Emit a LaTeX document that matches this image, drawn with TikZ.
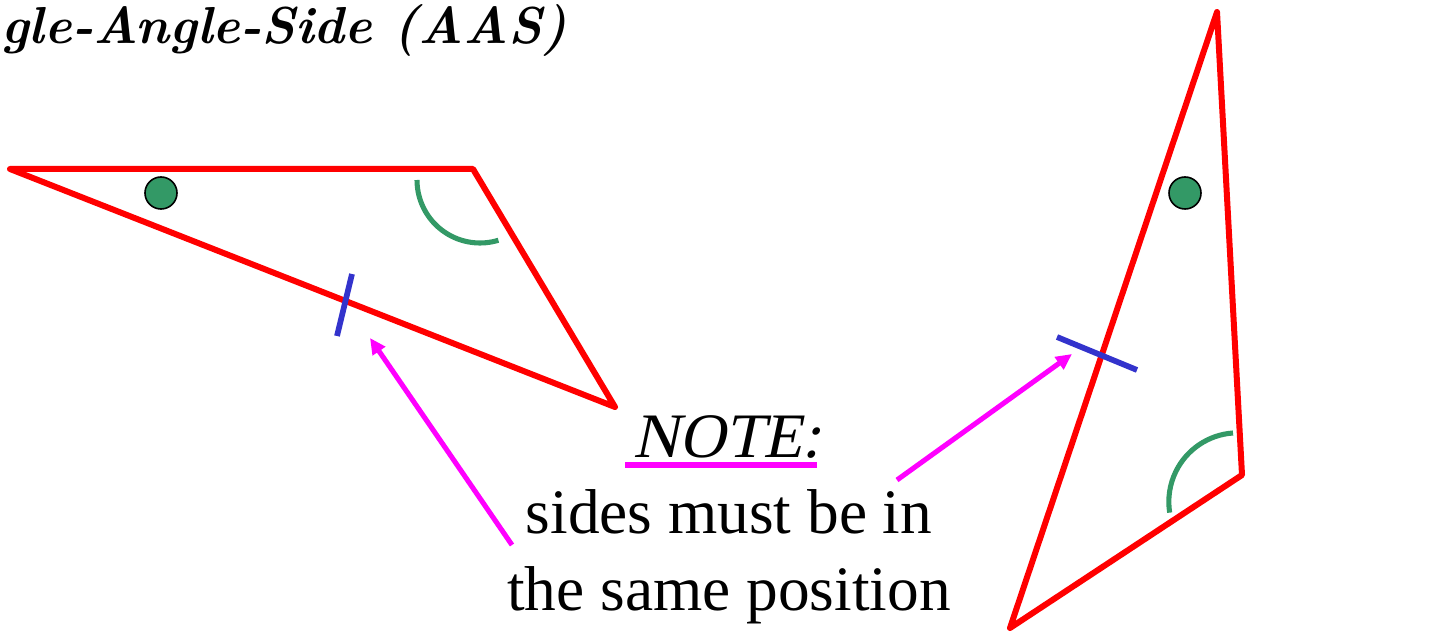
\documentclass[tikz,border=0pt]{standalone}
\usepackage{fontspec}
\newfontfamily\tnr{Liberation Serif}
\newfontfamily\tnrit{Liberation Serif}[FakeSlant=0.21]
\usetikzlibrary{arrows.meta}
\definecolor{tri}{HTML}{FF0000}
\definecolor{ang}{HTML}{339966}
\definecolor{tick}{HTML}{3333CC}
\definecolor{mag}{HTML}{FF00FF}
\tikzset{
  triside/.style={draw=tri, line width=4.5pt, line join=round, line cap=round},
  angarc/.style={draw=ang, line width=3.8pt},
  dotmark/.style={circle, fill=ang, draw=black, line width=1.2pt, minimum size=24pt, inner sep=0pt},
  tickmark/.style={draw=tick, line width=4.3pt},
  pointer/.style={draw=mag, line width=3.8pt, -{Triangle[length=12pt,width=11pt]}},
  bigtext/.style={font=\fontsize{47.5}{57}\selectfont, inner sep=0pt, anchor=base}
}
\begin{document}
\begin{tikzpicture}[x=0.75pt, y=-0.75pt]
\useasboundingbox (0,0) rectangle (1441,634);
% title
\node[font=\fontsize{39}{47}\selectfont, inner sep=0pt, anchor=base west] (title) at (1,44) {\bfseries\itshape gle-Angle-Side (AAS)};
% left triangle
\coordinate (A1) at (10,169);
\coordinate (B1) at (473,169);
\coordinate (C1) at (615,407);
\draw[triside] (A1) -- (B1) -- (C1) -- cycle;
\node[dotmark] (dot1) at (161,193) {};
\draw[angarc] (417,180) arc[start angle=180, end angle=73, radius=63];
\coordinate (t1a) at (352,274);
\coordinate (t1b) at (337,336);
\draw[tickmark] (t1a) -- (t1b);
% right triangle
\coordinate (A2) at (1217,12);
\coordinate (B2) at (1242,475);
\coordinate (C2) at (1010,628);
\draw[triside] (A2) -- (B2) -- (C2) -- cycle;
\node[dotmark] (dot2) at (1185,193) {};
\draw[angarc] (1233,433) arc[start angle=266, end angle=171, radius=69];
\coordinate (t2a) at (1057,337);
\coordinate (t2b) at (1137,370);
\draw[tickmark] (t2a) -- (t2b);
% note
\node[bigtext] (note) at (727,457) {\tnrit NOTE:};
\draw[draw=mag, line width=3.8pt] (625,465) -- (817,465);
\node[bigtext] (l1) at (729,533) {\tnr sides must be in};
\node[bigtext] (l2) at (729,610) {\tnr the same position};
% arrows
\coordinate (p1tail) at (512,545);
\coordinate (p1tip) at (370,338);
\coordinate (p2tail) at (897,480);
\coordinate (p2tip) at (1072,354);
\draw[pointer] (p1tail) -- (p1tip);
\draw[pointer] (p2tail) -- (p2tip);
\end{tikzpicture}
\end{document}
